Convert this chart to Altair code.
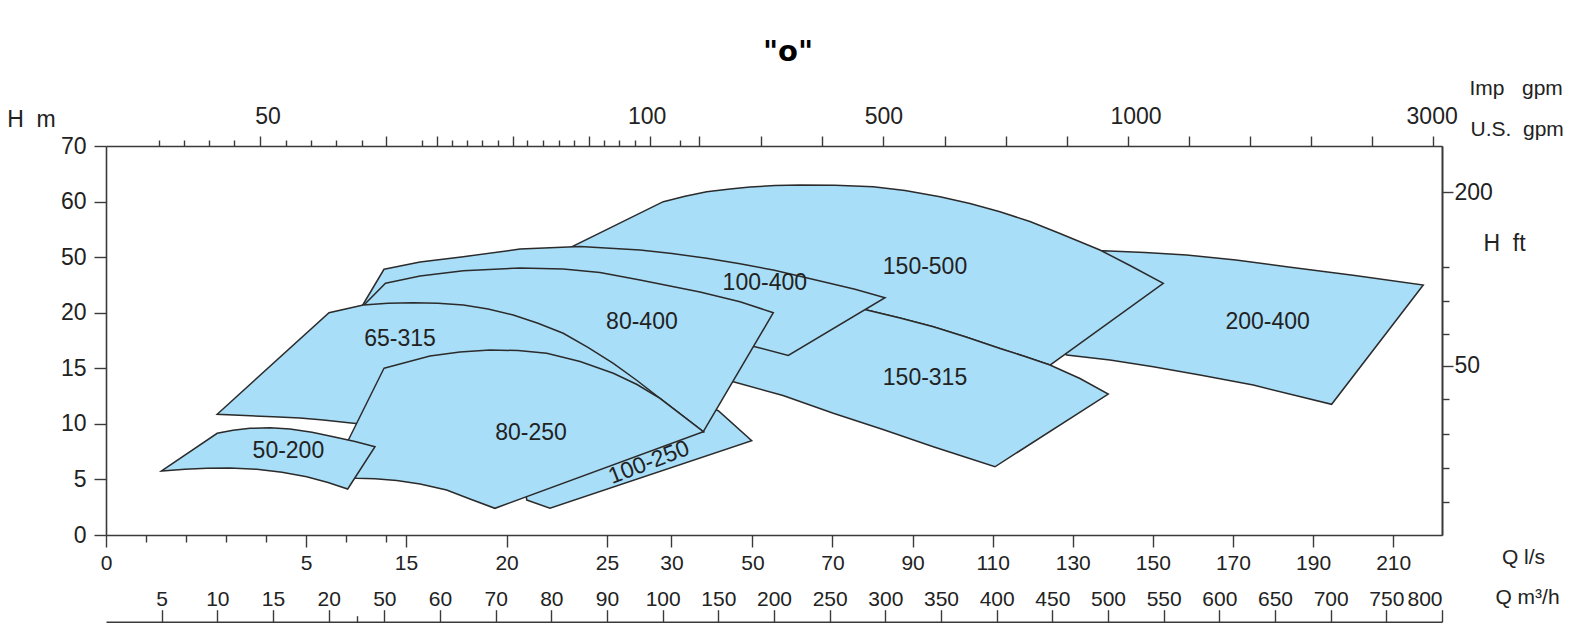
import json
import altair as alt
import pandas as pd

FONT = "Liberation Sans"
FILL = "#A9DEF8"
EDGE = "#2b2b2b"
AX = "#3a3a3a"
TXT = "#222222"

W, H = 1336, 389

# ---------- axis anchors ----------
LS_DOMAIN = [0, 5, 15, 20, 25, 30, 50, 222.2]
LS_RANGE = [0, 200, 300, 400.6, 501, 565.4, 646.4, W]
H_DOMAIN = [0, 5, 10, 15, 20, 50, 60, 70]
H_RANGE = [H * (7 - k) / 7 for k in range(8)]
M3H_LABELS = [5, 10, 15, 20, 50, 60, 70, 80, 90, 100, 150, 200, 250, 300,
              350, 400, 450, 500, 550, 600, 650, 700, 750, 800]
M3H_DOMAIN = [0] + M3H_LABELS
M3H_RANGE = [W * k / 24 for k in range(25)]
M3H_SMALL = [35]

LS_TICKS = [0, 5, 15, 20, 25, 30, 50, 70, 90, 110, 130, 150, 170, 190, 210]
LS_MINOR = [1, 2, 3, 4, 9, 13]
H_TICKS = [0, 5, 10, 15, 20, 50, 60, 70]
FT_POS = [61.7, 15.24]
FT_LABELS = ["200", "\u200250"]
FT_MINOR = [44.8, 26.3, 18.1, 12.2, 9.08, 6.0, 2.97]
GPM_LABEL_POS = [4.04, 28.08, 82.73, 145.68, 219.61]
GPM_LABELS = ["50", "100", "500", "1000", "3000"]
GPM_MAJOR = [3.85, 12.97, 16.556, 20.319, 24.099, 28.354, 36.914, 52.147, 67.478,
             82.684, 97.99, 113.221, 128.527, 143.733, 158.964, 174.245, 189.551,
             204.782, 219.837]
GPM_MINOR = [1.325, 1.95, 2.575, 3.2, 4.5, 5.5, 8.0, 10.56, 15.785, 17.286, 18.032,
             18.777, 19.553, 21.016, 21.833, 22.61, 23.342, 24.871, 25.947, 27.151,
             32.123]

# ---------- pump regions (Q in l/s, H in m) ----------
R200_400_Q = [137.62, 148.03, 158.44, 170.75, 183.41, 200.46, 217.52, 194.64, 175.07,
              161.76, 150.10, 139.29, 128.48, 121.81, 126.80]
R200_400_H = [51.16, 50.83, 50.38, 48.46, 44.84, 40.09, 34.96, 11.76, 13.49,
              14.39, 15.14, 15.74, 16.19, 17.54, 50.38]

R150_500_Q = [29.37, 33.36, 38.72, 44.47, 49.41, 55.64, 61.89, 70.62, 80.19, 88.10,
              96.84, 104.33, 111.82, 119.31, 126.80, 136.79, 144.28, 152.60,
              124.31, 118.06, 111.82, 103.33, 95.17, 86.85, 78.54, 56.89, 37.06, 22.41]
R150_500_H = [59.98, 60.97, 61.78, 62.26, 62.62, 62.87, 62.98, 62.95, 62.68, 61.99,
              60.88, 59.65, 58.18, 56.41, 54.25, 51.28, 45.49, 35.88,
              15.29, 16.06, 16.78, 17.81, 18.74, 19.52, 21.46, 32.26, 40.36, 50.38]

R150_315_Q = [42.0, 61.89, 78.54, 86.85, 95.17, 103.33, 111.82, 118.06, 124.31, 131.80,
              138.86, 110.57, 103.08, 95.17, 82.61, 70.20, 57.64, 45.28, 40.77]
R150_315_H = [37.66, 31.18, 21.46, 19.52, 18.74, 17.81, 16.78, 16.06, 15.29, 14.08,
              12.68, 6.14, 7.02, 7.94, 9.49, 10.95, 12.55, 13.79, 14.12]

R100_250_Q = [21.0, 22.16, 49.83, 41.58, 28.34, 20.67]
R100_250_H = [3.15, 2.40, 8.48, 11.18, 13.49, 10.35]

R100_400_Q = [12.8, 15.70, 17.85, 20.67, 23.66, 27.56, 30.15, 38.72, 46.94, 55.22,
              67.70, 75.62, 83.11, 58.96, 50.65, 37.06, 22.66, 12.4, 9.9]
R100_400_H = [43.44, 47.38, 50.08, 51.46, 51.91, 51.28, 50.65, 49.37, 46.40, 43.06,
              36.74, 32.64, 28.10, 16.15, 16.94, 17.99, 18.89, 19.16, 19.52]

R80_400_Q = [12.95, 15.70, 17.85, 20.67, 22.82, 24.65, 27.56, 29.89, 37.06, 46.94,
             55.22, 37.88, 29.11, 24.65, 19.67, 14.4, 9.4, 10.8]
R80_400_H = [35.88, 39.82, 42.68, 44.14, 43.6, 41.71, 37.66, 34.42, 31.18, 25.94,
             20.0, 9.29, 12.30, 15.74, 17.54, 18.44, 18.44, 24.16]

R65_315_Q = [2.78, 7.3, 10.73, 13.2, 15.36, 16.59, 17.85, 19.08, 20.33, 21.56, 22.82,
             24.05, 25.49, 27.33, 29.11, 37.88, 24.65, 17.19, 9.73, 6.73, 4.85, 4.18, 3.475]
R65_315_H = [10.86, 20.0, 24.16, 25.08, 25.4, 25.08, 24.16, 22.0, 19.79, 19.05, 18.15,
             16.89, 15.45, 13.90, 12.30, 9.29, 8.55, 9.27, 10.05, 10.35, 10.53, 10.64, 10.75]

R80_250_Q = [12.8, 16.19, 17.68, 19.17, 20.57, 22.0, 23.66, 25.49, 27.33, 29.11, 37.88,
             19.42, 18.18, 17.02, 15.70, 14.07, 11.9, 10.07, 7.4]
R80_250_H = [15.0, 16.10, 16.46, 16.64, 16.60, 16.35, 15.61, 14.55, 13.54, 12.30, 9.29,
             2.40, 3.24, 4.05, 4.59, 4.90, 5.07, 5.10, 5.22]

R50_200_Q = [1.39, 2.78, 3.175, 3.6, 4.1, 4.6, 5.6, 7.73, 9.9, 11.9, 9.17, 7.2, 5.07,
             4.4, 3.77, 3.1, 2.52, 1.975]
R50_200_H = [5.76, 9.15, 9.42, 9.60, 9.65, 9.54, 9.24, 8.84, 8.41, 7.94, 4.14, 4.72, 5.24,
             5.64, 5.91, 6.03, 6.0, 5.91]

DRAW_ORDER = [
    (R200_400_Q, R200_400_H), (R150_500_Q, R150_500_H), (R150_315_Q, R150_315_H),
    (R100_250_Q, R100_250_H), (R100_400_Q, R100_400_H), (R80_400_Q, R80_400_H),
    (R65_315_Q, R65_315_H), (R80_250_Q, R80_250_H), (R50_200_Q, R50_200_H),
]

LABEL_NAMES = ["50-200", "65-315", "80-400", "100-400", "150-500", "200-400", "150-315", "80-250"]
LABEL_Q = [4.56, 14.4, 27.71, 53.10, 93.10, 178.67, 93.10, 21.22]
LABEL_H = [7.52, 17.67, 19.12, 35.93, 44.68, 19.12, 14.13, 9.15]
ROT_NAMES = ["100-250"]
ROT_Q = [28.26]
ROT_H = [6.52]


def ls_scale():
    return alt.Scale(domain=LS_DOMAIN, range=LS_RANGE, nice=False, zero=False)


def h_scale():
    return alt.Scale(domain=H_DOMAIN, range=H_RANGE, nice=False, zero=False)


def m3h_scale():
    return alt.Scale(domain=M3H_DOMAIN, range=M3H_RANGE, nice=False, zero=False)


def lookup_expr(pos, labels):
    return f"{json.dumps(labels)}[indexof({json.dumps(pos)}, datum.value)]"


layers = []

for q, h in DRAW_ORDER:
    df = pd.DataFrame({"q": q, "h": h, "i": list(range(len(q)))})
    layers.append(
        alt.Chart(df).mark_line(
            fill=FILL, stroke=EDGE, strokeWidth=1.5, interpolate="linear-closed",
            strokeJoin="miter"
        ).encode(
            x=alt.X("q:Q", scale=ls_scale(), axis=None),
            y=alt.Y("h:Q", scale=h_scale(), axis=None),
            order=alt.Order("i:Q"),
        )
    )

lab_df = pd.DataFrame({"name": LABEL_NAMES, "q": LABEL_Q, "h": LABEL_H})
layers.append(
    alt.Chart(lab_df).mark_text(font=FONT, fontSize=23, color=TXT).encode(
        x=alt.X("q:Q", scale=ls_scale(), axis=None),
        y=alt.Y("h:Q", scale=h_scale(), axis=None),
        text="name:N",
    )
)
rot_df = pd.DataFrame({"name": ROT_NAMES, "q": ROT_Q, "h": ROT_H})
layers.append(
    alt.Chart(rot_df).mark_text(font=FONT, fontSize=23, color=TXT, angle=339).encode(
        x=alt.X("q:Q", scale=ls_scale(), axis=None),
        y=alt.Y("h:Q", scale=h_scale(), axis=None),
        text="name:N",
    )
)


def xaxis_layer(vals, scale, axis):
    df = pd.DataFrame({"v": vals})
    return alt.Chart(df).mark_point(opacity=0).encode(x=alt.X("v:Q", scale=scale, axis=axis))


def yaxis_layer(vals, scale, axis):
    df = pd.DataFrame({"v": vals})
    return alt.Chart(df).mark_point(opacity=0).encode(y=alt.Y("v:Q", scale=scale, axis=axis))


# bottom l/s axis (labelled)
layers.append(xaxis_layer(LS_TICKS, ls_scale(), alt.Axis(
    orient="bottom", values=LS_TICKS, format="d", tickSize=12, labelPadding=22,
    labelBaseline="alphabetic", labelFontSize=21,
    title="Q\u00a0l/s", titleFontSize=21, titleX=1417, titleY=22,
    titleAngle=0, titleAlign="center", titleBaseline="middle")))
# bottom l/s minor ticks
layers.append(xaxis_layer(LS_MINOR, ls_scale(), alt.Axis(
    orient="bottom", values=LS_MINOR, tickSize=7, labels=False, domain=False, title=None)))
# m3/h axis below
layers.append(xaxis_layer(M3H_LABELS, m3h_scale(), alt.Axis(
    orient="top", offset=-475.7, values=M3H_LABELS, format="d", tickSize=12,
    labelPadding=4, labelBaseline="alphabetic", labelFlush=True, labelFontSize=21,
    title="Q\u00a0m\u00b3/h", titleFontSize=21, titleX=1421,
    titleY=-24, titleAngle=0, titleAlign="center", titleBaseline="middle")))
layers.append(xaxis_layer(M3H_SMALL, m3h_scale(), alt.Axis(
    orient="top", offset=-475.7, values=M3H_SMALL, tickSize=6, labels=False,
    domain=False, title=None)))
# top gpm axis
layers.append(xaxis_layer(GPM_LABEL_POS, ls_scale(), alt.Axis(
    orient="top", values=GPM_LABEL_POS, ticks=False, tickSize=0, domain=False,
    labelPadding=23, labelBaseline="alphabetic",
    labelExpr=lookup_expr(GPM_LABEL_POS, GPM_LABELS),
    title="Imp\u00a0\u00a0\u00a0gpm", titleFontSize=21, titleX=1363, titleY=-58,
    titleAngle=0, titleAlign="left", titleBaseline="middle")))
layers.append(xaxis_layer(GPM_MAJOR, ls_scale(), alt.Axis(
    orient="top", values=GPM_MAJOR, tickSize=10, labels=False, domain=False,
    title="U.S.\u00a0\u00a0gpm", titleFontSize=21, titleX=1364, titleY=-17,
    titleAngle=0, titleAlign="left", titleBaseline="middle")))
layers.append(xaxis_layer(GPM_MINOR, ls_scale(), alt.Axis(
    orient="top", values=GPM_MINOR, tickSize=6, labels=False, domain=True, title=None)))
# left H m axis
layers.append(yaxis_layer(H_TICKS, h_scale(), alt.Axis(
    orient="left", values=H_TICKS, format="d", tickSize=12, labelPadding=8,
    title="H\u00a0\u00a0m", titleX=-75, titleY=-27, titleAngle=0,
    titleAlign="center", titleBaseline="middle")))
# right H ft axis
layers.append(yaxis_layer(FT_POS, h_scale(), alt.Axis(
    orient="right", values=FT_POS, tickSize=11, labelPadding=1,
    labelExpr=lookup_expr(FT_POS, FT_LABELS),
    title="H\u00a0\u00a0ft", titleX=62, titleY=97, titleAngle=0,
    titleAlign="center", titleBaseline="middle")))
layers.append(yaxis_layer(FT_MINOR, h_scale(), alt.Axis(
    orient="right", values=FT_MINOR, tickSize=7, labels=False, domain=True, title=None)))

chart = (
    alt.layer(*layers)
    .resolve_scale(x="independent", y="independent")
    .resolve_axis(x="independent", y="independent")
    .properties(
        width=W, height=H,
        autosize=alt.AutoSizeParams(type="none"),
        padding={"left": 98, "top": 138, "right": 124, "bottom": 92},
        title=alt.TitleParams(
            text='"o"', font="DejaVu Sans", fontSize=29, fontWeight="bold",
            color="#000000", anchor="middle", offset=10, dx=14,
        ),
    )
    .configure_view(stroke=None)
    .configure_axis(
        domainColor=AX, domainWidth=1.6, tickColor=AX, tickWidth=1.4,
        labelColor=TXT, titleColor=TXT, labelFont=FONT, titleFont=FONT,
        labelFontSize=23, titleFontSize=23, titleFontWeight="normal",
        grid=False, labelFlush=False, labelOverlap=False,
    )
)

chart.save("out.html", embed_options={"renderer": "svg", "actions": False})
